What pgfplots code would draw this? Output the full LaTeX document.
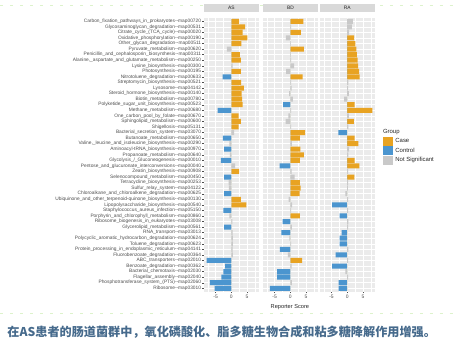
\documentclass[border=0pt]{standalone}
\usepackage{pgfplots}
\pgfplotsset{compat=1.18}
\usepackage{pgfplotstable}
\usepackage{fontspec}
\setmainfont{Liberation Sans}
\newfontfamily\cjk{Noto Sans CJK SC}
\definecolor{caseC}{HTML}{E8A322}
\definecolor{ctrlC}{HTML}{4B95CF}
\definecolor{nsC}{HTML}{C9C9C9}
\definecolor{panelbg}{HTML}{EBEBEB}
\definecolor{stripbg}{HTML}{D9D9D9}
\definecolor{tickc}{HTML}{4D4D4D}
\definecolor{capC}{HTML}{466A8C}
\definecolor{guideC}{HTML}{DDF2CC}

% group: 1 = Case, 2 = Control, 3 = Not Significant
\pgfplotstableread{
r AS ASg BD BDg RA RAg
1 2.5 1 4.2 1 1.8 3
2 4.4 1 0.3 3 1.5 3
3 3.6 1 3.4 1 0.6 3
4 5.1 1 -1.4 3 2.2 1
5 3.2 1 0.2 3 2.6 1
6 -1.4 3 4.3 1 2.9 1
7 2.7 1 0.2 3 3.1 1
8 3.0 1 0.3 3 3.3 1
9 0.4 3 1.2 3 3.5 1
10 3.0 1 -1.3 3 3.8 1
11 -2.8 2 3.9 1 4.0 1
12 3.1 1 0.3 3 0.4 3
13 4.0 1 0.4 3 0.3 3
14 3.3 1 -0.4 3 0.5 3
15 3.4 1 0.8 3 -1.0 3
16 3.6 1 -2.3 2 2.4 1
17 -4.4 2 0.3 3 8.0 1
18 2.3 1 -0.6 3 0.5 3
19 3.0 1 -1.5 3 2.1 1
20 2.3 1 0.3 3 0.4 3
21 0.9 3 4.7 1 -2.8 2
22 -2.7 2 3.1 1 2.4 1
23 -0.6 3 0.5 3 3.6 1
24 -2.3 2 3.2 1 0.6 3
25 -0.5 3 4.3 1 0.4 3
26 -3.3 2 3.1 1 2.4 1
27 1.2 3 -3.4 2 3.9 1
28 2.5 1 0.4 3 0.3 3
29 -2.3 2 1.4 3 2.3 1
30 -0.9 3 3.1 1 0.3 3
31 -0.8 3 3.3 1 0.2 3
32 -2.3 2 3.0 1 -0.6 3
33 3.0 1 -0.5 3 0.3 3
34 4.8 1 0.6 3 -4.8 2
35 -2.5 2 0.3 3 0.3 3
36 -0.6 3 3.1 1 -2.4 2
37 0.3 3 -2.4 2 0.4 3
38 -2.3 2 0.5 3 0.3 3
39 0.4 3 -2.8 2 -1.8 2
40 0.5 3 -0.3 3 -2.4 2
41 0.5 3 0.3 3 -2.4 2
42 0.4 3 -3.3 2 0.4 3
43 0.5 3 -0.8 3 -3.7 2
44 -7.9 2 3.8 1 0.3 3
45 -2.0 2 0.4 3 -4.8 2
46 -2.5 2 -4.2 2 -0.6 3
47 -3.2 2 -4.2 2 0.3 3
48 -6.8 2 0.5 3 -2.7 2
49 -5.3 2 -6.5 2 -2.7 2
}\data

\newcommand\panelbars[2]{%
  \addplot[xbar, bar shift=0pt, bar width=0.9, fill=caseC, draw=none, forget plot]
    table[y=r, x expr={\thisrow{#2}==1 ? \thisrow{#1} : 0}] {\data};
  \addplot[xbar, bar shift=0pt, bar width=0.9, fill=ctrlC, draw=none, forget plot]
    table[y=r, x expr={\thisrow{#2}==2 ? \thisrow{#1} : 0}] {\data};
  \addplot[xbar, bar shift=0pt, bar width=0.9, fill=nsC, draw=none, forget plot]
    table[y=r, x expr={\thisrow{#2}==3 ? \thisrow{#1} : 0}] {\data};
}

\pgfplotsset{
  panel/.style={
    scale only axis, width=55bp, height=274bp,
    xmin=-8.7, xmax=8.8, ymin=0.4, ymax=49.6, y dir=reverse,
    axis background/.style={fill=panelbg},
    axis line style={draw=none},
    xtick={-5,0,5}, xticklabels={-5,0,5},
    minor xtick={-7.5,-2.5,2.5,7.5},
    ytick={1,...,49},
    xmajorgrids, xminorgrids, ymajorgrids,
    major grid style={white, line width=0.55bp},
    minor grid style={white, line width=0.3bp},
    tick align=outside, major tick length=1.6bp, minor tick length=0bp,
    tick style={tickc, line width=0.4bp},
    xtick pos=left, ytick pos=left,
    xticklabel style={font=\fontsize{5}{5.5}\selectfont, text=tickc, inner sep=1.2bp},
    title style={at={(0.5,1)}, anchor=south, fill=stripbg, minimum width=55bp,
      minimum height=7.8bp, inner sep=0pt, yshift=0bp,
      font=\fontsize{4.9}{5}\selectfont, text=black!85},
  }
}

\begin{document}
\begin{tikzpicture}[x=1bp,y=1bp]
\path (0bp,0bp) rectangle (460bp,350bp);
\draw[guideC, line width=0.6bp, dash pattern=on 3bp off 7bp] (0bp,345bp) -- (460bp,345bp);
\draw[guideC, line width=0.6bp, dash pattern=on 3bp off 7bp] (0bp,36bp) -- (460bp,36bp);

\begin{axis}[panel, at={(204bp,58bp)}, anchor=south west, title={AS},
  yticklabel style={font=\fontsize{4.85}{5}\selectfont, text=tickc, inner xsep=1.2bp},
  yticklabels={
{Carbon\_fixation\_pathways\_in\_prokaryotes-{}-map00720},
{Glycosaminoglycan\_degradation-{}-map00531},
{Citrate\_cycle\_(TCA\_cycle)-{}-map00020},
{Oxidative\_phosphorylation-{}-map00190},
{Other\_glycan\_degradation-{}-map00511},
{Pyruvate\_metabolism-{}-map00620},
{Penicillin\_and\_cephalosporin\_biosynthesis-{}-map00311},
{Alanine,\_aspartate\_and\_glutamate\_metabolism-{}-map00250},
{Lysine\_biosynthesis-{}-map00300},
{Photosynthesis-{}-map00195},
{Nitrotoluene\_degradation-{}-map00633},
{Streptomycin\_biosynthesis-{}-map00521},
{Lysosome-{}-map04142},
{Steroid\_hormone\_biosynthesis-{}-map00140},
{Biotin\_metabolism-{}-map00780},
{Polyketide\_sugar\_unit\_biosynthesis-{}-map00523},
{Methane\_metabolism-{}-map00680},
{One\_carbon\_pool\_by\_folate-{}-map00670},
{Sphingolipid\_metabolism-{}-map00600},
{Shigellosis-{}-map05131},
{Bacterial\_secretion\_system-{}-map03070},
{Butanoate\_metabolism-{}-map00650},
{Valine,\_leucine\_and\_isoleucine\_biosynthesis-{}-map00290},
{Aminoacyl-tRNA\_biosynthesis-{}-map00970},
{Propanoate\_metabolism-{}-map00640},
{Glycolysis\_/\_Gluconeogenesis-{}-map00010},
{Pentose\_and\_glucuronate\_interconversions-{}-map00040},
{Zeatin\_biosynthesis-{}-map00908},
{Selenocompound\_metabolism-{}-map00450},
{Tetracycline\_biosynthesis-{}-map00253},
{Sulfur\_relay\_system-{}-map04122},
{Chloroalkane\_and\_chloroalkene\_degradation-{}-map00625},
{Ubiquinone\_and\_other\_terpenoid-quinone\_biosynthesis-{}-map00130},
{Lipopolysaccharide\_biosynthesis-{}-map00540},
{Staphylococcus\_aureus\_infection-{}-map05150},
{Porphyrin\_and\_chlorophyll\_metabolism-{}-map00860},
{Ribosome\_biogenesis\_in\_eukaryotes-{}-map03008},
{Glycerolipid\_metabolism-{}-map00561},
{RNA\_transport-{}-map03013},
{Polycyclic\_aromatic\_hydrocarbon\_degradation-{}-map00624},
{Toluene\_degradation-{}-map00623},
{Protein\_processing\_in\_endoplasmic\_reticulum-{}-map04141},
{Fluorobenzoate\_degradation-{}-map00364},
{ABC\_transporters-{}-map02010},
{Benzoate\_degradation-{}-map00362},
{Bacterial\_chemotaxis-{}-map02030},
{Flagellar\_assembly-{}-map02040},
{Phosphotransferase\_system\_(PTS)-{}-map02060},
{Ribosome-{}-map03010}},
]
\panelbars{AS}{ASg}
\end{axis}

\begin{axis}[panel, at={(263bp,58bp)}, anchor=south west, title={BD},
  yticklabels={}, ytick style={draw=none}]
\panelbars{BD}{BDg}
\end{axis}

\begin{axis}[panel, at={(320bp,58bp)}, anchor=south west, title={RA},
  yticklabels={}, ytick style={draw=none},
  legend style={at={(1,0.515)}, anchor=west, xshift=8bp, draw=none, fill=none,
    inner sep=0pt, row sep=1.3bp, font=\fontsize{6}{6.5}\selectfont, text=black!85,
    nodes={inner sep=0pt},
    /tikz/every even column/.append style={column sep=2bp}},
  legend cell align=left]
\panelbars{RA}{RAg}
\addlegendimage{legend image code/.code={\fill[caseC] (0bp,-4bp) rectangle (9bp,4bp);}}
\addlegendentry{\hspace{3bp}Case}
\addlegendimage{legend image code/.code={\fill[ctrlC] (0bp,-4bp) rectangle (9bp,4bp);}}
\addlegendentry{\hspace{3bp}Control}
\addlegendimage{legend image code/.code={\fill[nsC] (0bp,-4bp) rectangle (9bp,4bp);}}
\addlegendentry{\hspace{3bp}Not Significant}
\end{axis}

\node[anchor=west, font=\fontsize{6}{6.5}\selectfont, text=black!85, inner sep=0pt] at (383bp,218bp) {Group};
\node[font=\fontsize{5.7}{6}\selectfont, text=black!85, inner sep=0pt] at (290bp,42bp) {Reporter Score};
\node[anchor=west, inner sep=0pt, text=capC, font=\cjk\bfseries\fontsize{12.2}{14}\selectfont] at (7bp,17bp)
  {在AS患者的肠道菌群中，氧化磷酸化、脂多糖生物合成和粘多糖降解作用增强。};
\end{tikzpicture}
\end{document}
